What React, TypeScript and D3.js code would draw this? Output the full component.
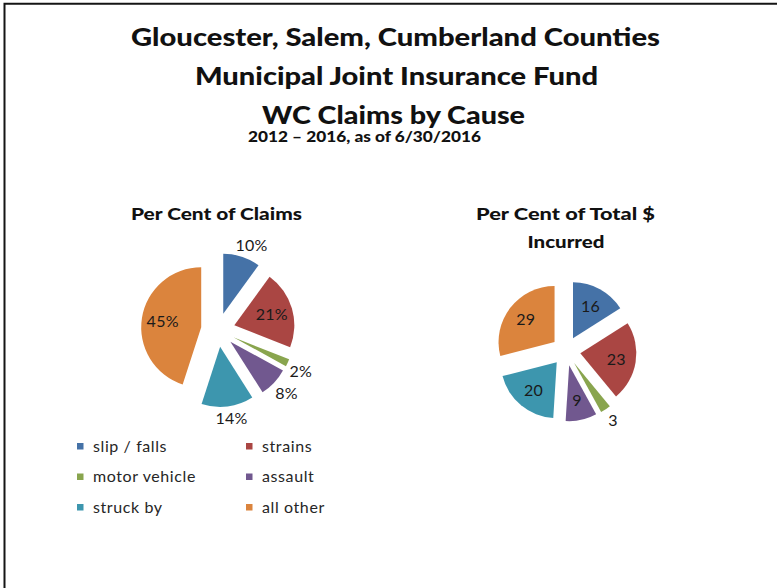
import React from 'react';
import * as d3 from 'd3';

const categories = ['slip / falls', 'strains', 'motor vehicle', 'assault', 'struck by', 'all other'];
const claimsPct = [10, 21, 2, 8, 14, 45];
const incurredPct = [16, 23, 3, 9, 20, 29];
// which data labels Excel put outside the slice
const claimsOutside = [true, false, true, true, true, false];
const incurredOutside = [false, false, true, false, false, false];
const colors = ['#4572A7', '#AA4643', '#89A54E', '#71588F', '#3D96AE', '#DB843D'];

const titleLines = ['Gloucester, Salem, Cumberland  Counties', 'Municipal Joint Insurance Fund', 'WC Claims by Cause'];
const subtitle = '2012 \u2013 2016, as of 6/30/2016';

const W = 777;
const H = 588;
const font = 'Lato, "Open Sans", sans-serif';

type PieProps = {
  values: number[];
  cx: number;
  cy: number;
  r: number;
  explode: number;
  outside: boolean[];
  suffix: string;
};

const ExplodedPie = ({ values, cx, cy, r, explode, outside, suffix }: PieProps) => {
  const arcs = d3.pie<number>().sort(null).value(d => d)(values);
  const arcGen = d3.arc<d3.PieArcDatum<number>>().innerRadius(0).outerRadius(r);
  return (
    <g transform={`translate(${cx},${cy})`}>
      {arcs.map((a, i) => {
        const mid = (a.startAngle + a.endAngle) / 2;
        const ox = Math.sin(mid) * explode;
        const oy = -Math.cos(mid) * explode;
        return (
          <path key={'s' + i} d={arcGen(a) || ''} fill={colors[i]} transform={`translate(${ox},${oy})`} />
        );
      })}
      {arcs.map((a, i) => {
        const mid = (a.startAngle + a.endAngle) / 2;
        const dx = Math.sin(mid);
        const dy = -Math.cos(mid);
        const label = `${values[i]}${suffix}`;
        let lx: number;
        let ly: number;
        if (outside[i]) {
          const w = label.length * 8.5 + 2;
          const h = 16;
          const edge = explode + r + 4;
          lx = dx * edge + (w / 2) * Math.max(-1, Math.min(1, dx * 2));
          ly = dy * edge + (h / 2) * Math.max(-1, Math.min(1, dy * 2));
        } else {
          const dist = explode + r * 0.65;
          lx = dx * dist;
          ly = dy * dist;
        }
        return (
          <text key={'l' + i} x={lx} y={ly} dy="0.35em" textAnchor="middle"
            fontFamily={font} fontSize={16} letterSpacing={0.3} fill="#1a1a1a">{label}</text>
        );
      })}
    </g>
  );
};

export default function App() {
  const legendRows = d3.range(0, categories.length, 2);
  return (
    <svg width={W} height={H} style={{ position: 'absolute', left: 0, top: 0, background: '#fff' }}>
      <rect x={0} y={0} width={W} height={H} fill="#fff" />
      <path d={`M4.5,${H} V3.7 H${W}`} fill="none" stroke="#151515" strokeWidth={2} />

      <g fontFamily={font} fontWeight="900" fill="#111" textAnchor="middle">
        <text x={395.5} y={46} fontSize={24} textLength={529} lengthAdjust="spacingAndGlyphs">{titleLines[0]}</text>
        <text x={396.5} y={85} fontSize={24} textLength={403} lengthAdjust="spacingAndGlyphs">{titleLines[1]}</text>
        <text x={393.5} y={124} fontSize={24} textLength={263} lengthAdjust="spacingAndGlyphs">{titleLines[2]}</text>
        <text x={364.5} y={141.5} fontSize={15.5} textLength={233} lengthAdjust="spacingAndGlyphs">{subtitle}</text>

        <text x={216.5} y={220} fontSize={17} textLength={171} lengthAdjust="spacingAndGlyphs">Per Cent of Claims</text>
        <text x={565.5} y={220} fontSize={17} textLength={179} lengthAdjust="spacingAndGlyphs">Per Cent of Total $</text>
        <text x={566} y={248} fontSize={17} textLength={77} lengthAdjust="spacingAndGlyphs">Incurred</text>
      </g>

      <ExplodedPie values={claimsPct} cx={218} cy={330} r={60} explode={17} outside={claimsOutside} suffix="%" />
      <ExplodedPie values={incurredPct} cx={566} cy={351} r={56} explode={14.5} outside={incurredOutside} suffix="" />

      <g fontFamily={font} fontSize={16} letterSpacing={0.6} fill="#262626">
        {legendRows.map((start, row) =>
          [0, 1].map(col => {
            const i = start + col;
            const x = col === 0 ? 77 : 246;
            const y = 446 + row * 30.5;
            return (
              <g key={i}>
                <rect x={x} y={y - 3} width={6.5} height={6.5} fill={colors[i]} />
                <text x={x + 16} y={y} dy="0.35em">{categories[i]}</text>
              </g>
            );
          })
        )}
      </g>
    </svg>
  );
}
